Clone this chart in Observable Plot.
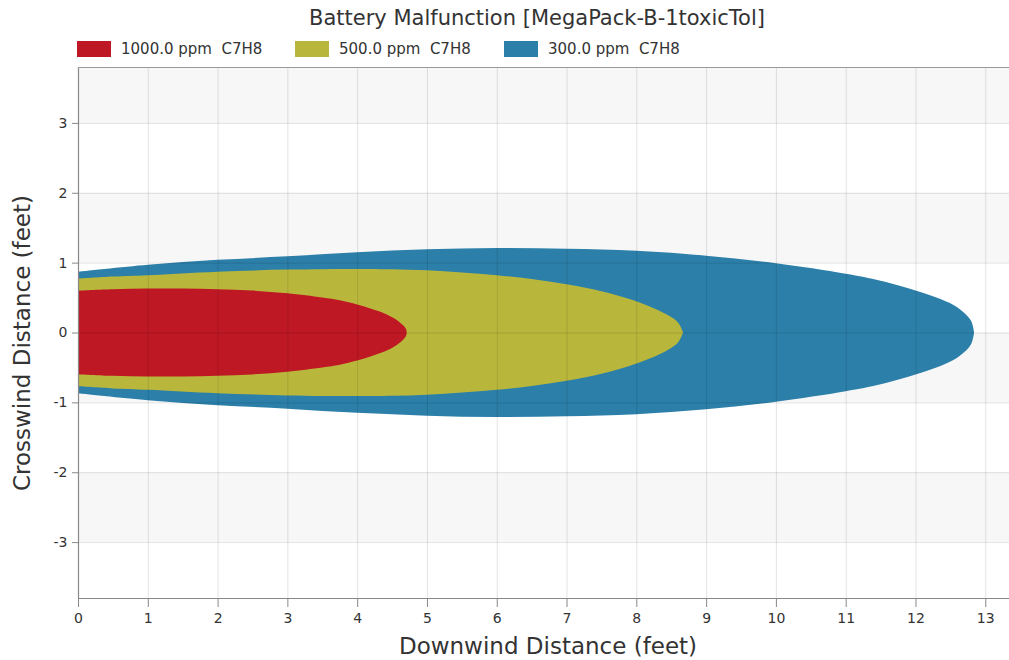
<!DOCTYPE html>
<html>
<head>
<meta charset="utf-8">
<script src="https://cdn.jsdelivr.net/npm/d3@7"></script>
<script src="https://cdn.jsdelivr.net/npm/@observablehq/plot@0.6"></script>
<style>
  html, body { margin: 0; padding: 0; background: #fff; }
  #root { position: relative; width: 1009px; height: 660px; overflow: hidden; font-family: "DejaVu Sans", Verdana, sans-serif; color: #333; }
  #title { position: absolute; top: 6px; left: 537px; transform: translateX(-50%); font-size: 21px; white-space: nowrap; color: #333; }
  #legend { position: absolute; top: 40px; left: 77px; height: 18px; font-size: 15px; color: #333; }
  .li { position: absolute; top: 0; white-space: pre; display: flex; align-items: center; height: 18px; }
  .sw { width: 34px; height: 16px; margin-right: 10px; }
  #chart { position: absolute; top: 60px; left: 0; }
  #xlab { position: absolute; top: 633px; left: 548px; transform: translateX(-50%); font-size: 23px; white-space: nowrap; color: #333; }
  #ylab { position: absolute; top: 343px; left: 22px; transform: translate(-50%, -50%) rotate(-90deg); font-size: 23px; white-space: nowrap; color: #333; }
</style>
</head>
<body>
<div id="root">
  <div id="title"></div>
  <div id="legend"></div>
  <div id="chart"></div>
  <div id="xlab"></div>
  <div id="ylab"></div>
</div>
<script>
// ---- Data ----
const titleText = "Battery Malfunction [MegaPack-B-1toxicTol]";
const xLabel = "Downwind Distance (feet)";
const yLabel = "Crosswind Distance (feet)";

const seriesNames = ["1000.0 ppm  C7H8", "500.0 ppm  C7H8", "300.0 ppm  C7H8"];
const seriesColors = ["#be1824", "#b9b73b", "#2b7fa9"];

const xTicks = [0,1,2,3,4,5,6,7,8,9,10,11,12,13];
const yTicks = [-3,-2,-1,0,1,2,3];
const xDomain = [0, 13.34];
const yDomain = [-3.8, 3.8];
const shadedBandStarts = [-3, -1, 1, 3];
const shadedBandEnds = [-2, 0, 2, 3.8];

// 1000 ppm footprint: downwind x and half crosswind width
const redX = [0, 0.5, 1, 1.5, 2, 2.5, 3, 3.5, 3.75, 4, 4.2, 4.4, 4.55, 4.65, 4.7, 4.71];
const redW = [0.60, 0.62, 0.63, 0.63, 0.62, 0.60, 0.56, 0.50, 0.46, 0.40, 0.34, 0.27, 0.19, 0.11, 0.05, 0];

// 500 ppm footprint
const yelX = [0, 0.5, 1, 2, 3, 4, 4.5, 5, 5.5, 6, 6.5, 7, 7.5, 7.9, 8.2, 8.45, 8.6, 8.67];
const yelW = [0.77, 0.80, 0.82, 0.87, 0.90, 0.91, 0.905, 0.89, 0.86, 0.82, 0.765, 0.69, 0.59, 0.48, 0.37, 0.25, 0.14, 0];

// 300 ppm footprint
const bluX = [0, 1, 2, 3, 4, 5, 6, 7, 8, 9, 10, 11, 11.5, 12, 12.3, 12.55, 12.7, 12.8, 12.84];
const bluW = [0.87, 0.97, 1.04, 1.09, 1.15, 1.19, 1.21, 1.20, 1.17, 1.10, 0.99, 0.84, 0.74, 0.60, 0.50, 0.39, 0.28, 0.16, 0];

// ---- Build ----
const toRows = (xs, ws) => xs.map((x, i) => ({x, w: ws[i]}));
const red = toRows(redX, redW);
const yel = toRows(yelX, yelW);
const blu = toRows(bluX, bluW);
const bands = shadedBandStarts.map((s, i) => ({y1: s, y2: shadedBandEnds[i]}));

document.getElementById("title").textContent = titleText;
document.getElementById("xlab").textContent = xLabel;
document.getElementById("ylab").textContent = yLabel;

const legend = document.getElementById("legend");
const legendLefts = [0, 218, 427];
seriesNames.forEach((n, i) => {
  const d = document.createElement("div");
  d.className = "li";
  d.style.left = legendLefts[i] + "px";
  const s = document.createElement("div");
  s.className = "sw";
  s.style.background = seriesColors[i];
  const t = document.createElement("span");
  t.textContent = n;
  d.appendChild(s); d.appendChild(t);
  legend.appendChild(d);
});

const area = (data, color) => Plot.areaY(data, {
  x: "x", y1: d => -d.w, y2: d => d.w, fill: color, curve: "catmull-rom"
});

const chart = Plot.plot({
  width: 1009,
  height: 600,
  marginLeft: 78,
  marginRight: 0,
  marginTop: 7,
  marginBottom: 62,
  x: {domain: xDomain, label: null},
  y: {domain: yDomain, label: null},
  style: {fontFamily: "DejaVu Sans, Verdana, sans-serif", fontSize: "14px", color: "#333", background: "transparent"},
  marks: [
    Plot.rect(bands, {x1: () => xDomain[0], x2: () => xDomain[1], y1: "y1", y2: "y2", fill: "#f7f7f7"}),
    area(blu, seriesColors[2]),
    area(yel, seriesColors[1]),
    area(red, seriesColors[0]),
    Plot.gridX(xTicks, {stroke: "#000", strokeOpacity: 0.11}),
    Plot.gridY(yTicks, {stroke: "#000", strokeOpacity: 0.11}),
    Plot.ruleX([xDomain[0]], {stroke: "#888", strokeWidth: 1.2}),
    Plot.ruleY([yDomain[0]], {stroke: "#888", strokeWidth: 1.2}),
    Plot.ruleY([yDomain[1]], {stroke: "#999", strokeWidth: 1}),
    Plot.axisX(xTicks, {tickSize: 9, tickPadding: 6, stroke: "#888", tickFormat: d => String(d), fontSize: 14, label: null}),
    Plot.axisY(yTicks, {tickSize: 6, tickPadding: 5, stroke: "#888", tickFormat: d => String(d), fontSize: 14, label: null})
  ]
});
document.getElementById("chart").appendChild(chart);
</script>
</body>
</html>
